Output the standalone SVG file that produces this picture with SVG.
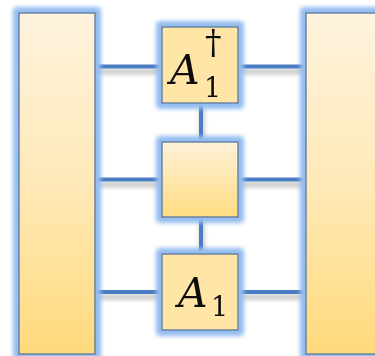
<svg xmlns="http://www.w3.org/2000/svg" width="375" height="356" viewBox="0 0 375 356">
  <defs>
    <linearGradient id="fillV" x1="0" y1="0" x2="0" y2="1">
      <stop offset="0" stop-color="#FFF3DE"/>
      <stop offset="0.5" stop-color="#FFE9B8"/>
      <stop offset="1" stop-color="#FFDA7C"/>
    </linearGradient>
    <linearGradient id="fillBox" x1="0" y1="0" x2="0" y2="1">
      <stop offset="0" stop-color="#FFF2DA"/>
      <stop offset="1" stop-color="#FFDC80"/>
    </linearGradient>
    <filter id="glow" x="-30%" y="-30%" width="160%" height="160%">
      <feMorphology in="SourceAlpha" operator="dilate" radius="4" result="grown"/>
      <feGaussianBlur in="grown" stdDeviation="2.8" result="soft"/>
      <feFlood flood-color="#93BDF0"/>
      <feComposite in2="soft" operator="in" result="halo"/>
      <feMerge>
        <feMergeNode in="halo"/>
        <feMergeNode in="halo"/>
        <feMergeNode in="SourceGraphic"/>
      </feMerge>
    </filter>
    <filter id="lineShadow" x="-10%" y="-50%" width="120%" height="200%">
      <feGaussianBlur in="SourceAlpha" stdDeviation="2.5"/>
      <feOffset dx="1" dy="5" result="sh"/>
      <feComponentTransfer in="sh" result="shf">
        <feFuncA type="linear" slope="0.3"/>
      </feComponentTransfer>
      <feMerge>
        <feMergeNode in="shf"/>
        <feMergeNode in="SourceGraphic"/>
      </feMerge>
    </filter>
  </defs>
  <style>
    .wire { stroke: #4A7CC4; stroke-width: 4; fill: none; }
    .box { stroke: #5A7396; stroke-width: 1.3; }
    .sym { font-family: "DejaVu Serif", "Liberation Serif", serif; fill: #111; }
  </style>

  <!-- wires -->
  <g id="connectors" filter="url(#lineShadow)">
    <line class="wire" x1="95" y1="66.5" x2="306" y2="66.5"/>
    <line class="wire" x1="95" y1="179.5" x2="306" y2="179.5"/>
    <line class="wire" x1="95" y1="292" x2="306" y2="292"/>
    <line class="wire" x1="201" y1="103" x2="201" y2="142"/>
    <line class="wire" x1="201" y1="217" x2="201" y2="254"/>
  </g>

  <g id="left-env" filter="url(#glow)">
    <rect class="box" x="19" y="13" width="76" height="341" fill="url(#fillV)"/>
  </g>

  <g id="right-env" filter="url(#glow)">
    <rect class="box" x="306" y="13" width="80" height="341" fill="url(#fillV)"/>
  </g>

  <g id="A1-dagger" filter="url(#glow)">
    <rect class="box" x="162" y="27" width="76" height="76" fill="#FFE5A6"/>
    <text class="sym" x="170" y="83.5" font-size="41" font-style="italic">A</text>
    <text class="sym" x="204" y="97" font-size="27">1</text>
    <text class="sym" x="205" y="54" font-size="33">†</text>
  </g>

  <g id="mid" filter="url(#glow)">
    <rect class="box" x="162" y="142" width="76" height="75" fill="url(#fillBox)"/>
  </g>

  <g id="A1" filter="url(#glow)">
    <rect class="box" x="162" y="254" width="76" height="76" fill="#FFE5A6"/>
    <text class="sym" x="178" y="307" font-size="41" font-style="italic">A</text>
    <text class="sym" x="211" y="316" font-size="27">1</text>
  </g>
</svg>
